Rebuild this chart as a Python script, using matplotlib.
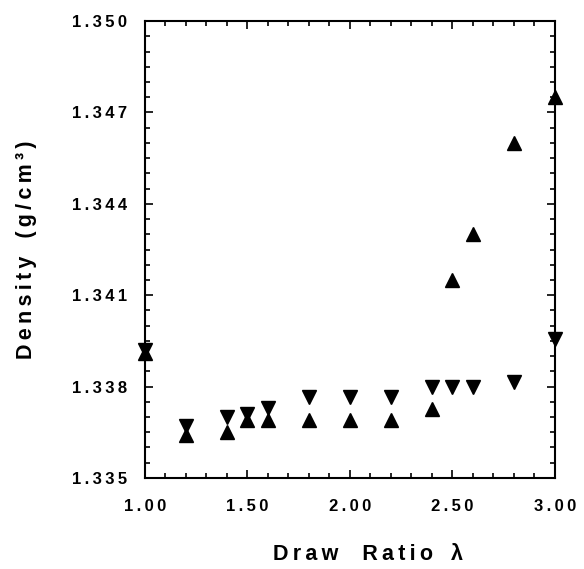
import matplotlib
matplotlib.use("Agg")
import matplotlib.pyplot as plt
from matplotlib.ticker import MultipleLocator, FuncFormatter

# draw ratio
ratio = [1.0, 1.2, 1.4, 1.5, 1.6, 1.8, 2.0, 2.2, 2.4, 2.5, 2.6, 2.8, 3.0]
# up triangles
dens_up = [1.3391, 1.3364, 1.3365, 1.3369, 1.3369, 1.3369, 1.3369, 1.3369,
           1.33726, 1.3415, 1.3430, 1.3460, 1.3475]
# down triangles
dens_dn = [1.3392, 1.3367, 1.3370, 1.3371, 1.3373, 1.33765, 1.33765, 1.33765,
           1.3380, 1.3380, 1.3380, 1.33815, 1.33955]

plt.rcParams['font.family'] = ['Liberation Sans', 'DejaVu Sans']
plt.rcParams['font.weight'] = 'bold'

def spaced(s):
    # old-style letter spacing with thin spaces
    return '\u2009'.join(s)

fig = plt.figure(figsize=(5.84, 5.69), dpi=100)
ax = fig.add_axes([0.248, 0.160, 0.702, 0.803])

ax.plot(ratio, dens_up, linestyle='none', marker='^', color='black',
        markersize=9.5, clip_on=False)
ax.plot(ratio, dens_dn, linestyle='none', marker='v', color='black',
        markersize=9.5, clip_on=False)

ax.set_xlim(1.0, 3.0)
ax.set_ylim(1.335, 1.350)

ax.xaxis.set_major_locator(MultipleLocator(0.5))
ax.xaxis.set_minor_locator(MultipleLocator(0.1))
ax.yaxis.set_major_locator(MultipleLocator(0.003))
ax.yaxis.set_minor_locator(MultipleLocator(0.0005))
ax.xaxis.set_major_formatter(FuncFormatter(lambda v, p: spaced(f"{v:.2f}")))
ax.yaxis.set_major_formatter(FuncFormatter(lambda v, p: spaced(f"{v:.3f}")))

ax.tick_params(which='both', direction='in', top=True, right=True,
               width=1.2, labelsize=12)
ax.tick_params(which='major', length=6)
ax.tick_params(which='minor', length=3.5)
ax.tick_params(axis='x', pad=15)
ax.tick_params(axis='y', pad=13)

for s in ax.spines.values():
    s.set_linewidth(1.5)

ax.set_xlabel(spaced('Draw') + '    ' + spaced('Ratio') + '   λ',
              fontsize=15.5, fontweight='bold', labelpad=22)
ax.xaxis.label.set_x(0.544)
ax.set_ylabel(spaced('Density') + '   ' + spaced('(g/cm³)'),
              fontsize=15.5, fontweight='bold', labelpad=25)

fig.savefig('out.png', dpi=100)
